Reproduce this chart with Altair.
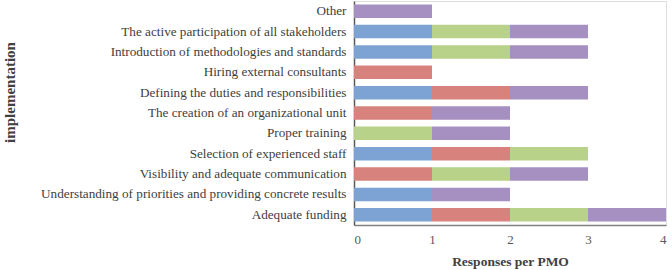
import altair as alt
import pandas as pd

# Factors, listed top to bottom
factors = [
    "Other",
    "The active participation of all stakeholders",
    "Introduction of methodologies and standards",
    "Hiring external consultants",
    "Defining the duties and responsibilities",
    "The creation of an organizational unit",
    "Proper training",
    "Selection of experienced staff",
    "Visibility and adequate communication",
    "Understanding of priorities and providing concrete results",
    "Adequate funding",
]

# Responses from each PMO (stacked left to right)
pmo_a = [0, 1, 1, 0, 1, 0, 0, 1, 0, 1, 1]
pmo_b = [0, 0, 0, 1, 1, 1, 0, 1, 1, 0, 1]
pmo_c = [0, 1, 1, 0, 0, 0, 1, 1, 1, 0, 1]
pmo_d = [1, 1, 1, 0, 1, 1, 1, 0, 1, 1, 1]

series = ["PMO A", "PMO B", "PMO C", "PMO D"]
colors = ["#7CA3D4", "#D7827D", "#B9D28A", "#A68FC1"]

rows = []
for name, vals in zip(series, [pmo_a, pmo_b, pmo_c, pmo_d]):
    for f, v in zip(factors, vals):
        if v:
            rows.append({"factor": f, "pmo": name, "value": v, "rank": series.index(name)})
df = pd.DataFrame(rows)

font = "Liberation Serif"

chart = (
    alt.Chart(df)
    .mark_bar(size=13.5)
    .encode(
        y=alt.Y(
            "factor:N",
            sort=factors,
            scale=alt.Scale(paddingInner=0.33, paddingOuter=0.17),
            axis=alt.Axis(
                title="implementation",
                titleFont=font,
                titleFontSize=15,
                titleFontWeight="bold",
                titleColor="#404040",
                titleX=-345,
                titleY=91,
                titleAngle=-90,
                titleAlign="center",
                titleBaseline="middle",
                labelFont=font,
                labelFontSize=13.2,
                labelColor="#404040",
                labelPadding=8,
                ticks=False,
                domainColor="#595959",
                domainWidth=1.5,
                labelLimit=400,
            ),
        ),
        x=alt.X(
            "value:Q",
            stack="zero",
            scale=alt.Scale(domain=[0, 4], nice=False),
            axis=alt.Axis(
                title="Responses per PMO",
                values=[0, 1, 2, 3, 4],
                format="d",
                titleFont=font,
                titleFontSize=13.5,
                titleFontWeight="bold",
                titleColor="#404040",
                titlePadding=8,
                labelFont=font,
                labelFontSize=13,
                labelColor="#595959",
                labelPadding=8,
                ticks=False,
                grid=False,
                domainColor="#808080",
                domainWidth=1.5,
            ),
        ),
        color=alt.Color(
            "pmo:N",
            scale=alt.Scale(domain=series, range=colors),
            legend=None,
        ),
        order=alt.Order("rank:Q", sort="ascending"),
    )
    .properties(
        width=312,
        height=224,
        autosize=alt.AutoSizeParams(type="none"),
        padding={"left": 354, "top": 1, "right": 6, "bottom": 45},
    )
    .configure_view(stroke=None)
    .configure(background="white")
)

chart.save("out.html", embed_options={"renderer": "svg", "actions": False})
